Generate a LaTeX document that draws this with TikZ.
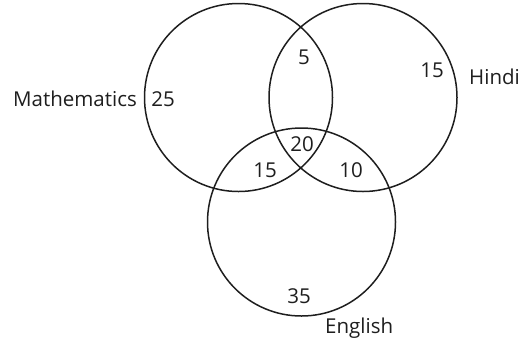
\documentclass[tikz,border=0pt]{standalone}
\usepackage{fontspec}
\setmainfont{Open Sans}
\usetikzlibrary{positioning}
\definecolor{venndark}{RGB}{30,30,30}

\begin{document}
\begin{tikzpicture}[x=1pt,y=-1pt,
		set/.style={draw=venndark,line width=1.5pt,circle,minimum size=188pt,inner sep=0pt},
		num/.style={font=\fontsize{20.5}{24}\selectfont,text=venndark,inner sep=0pt,anchor=base}]
	\useasboundingbox (0,0) rectangle (521,341);
	% the three sets
	\node[set] (M) at (238.5,97.5) {};
	\node[set] (H) at (363,97.5) {};
	\node[set] (E) at (301.5,222) {};
	% set names
	\node[num,anchor=base east] (nM) at (137,106) {Mathematics};
	\node[num,anchor=base west] (nH) at (469,84) {Hindi};
	\node[num,anchor=base west] (nE) at (325,333) {English};
	% counts
	\foreach \name/\x/\y/\val in {cM/163/106/25, cMH/304/64/5, cH/432/77/15,
		cMHE/302/151/20, cME/265/177/15, cHE/351/177/10, cE/299/303/35}{
		\node[num] (\name) at (\x,\y) {\val};
	}
\end{tikzpicture}
\end{document}
